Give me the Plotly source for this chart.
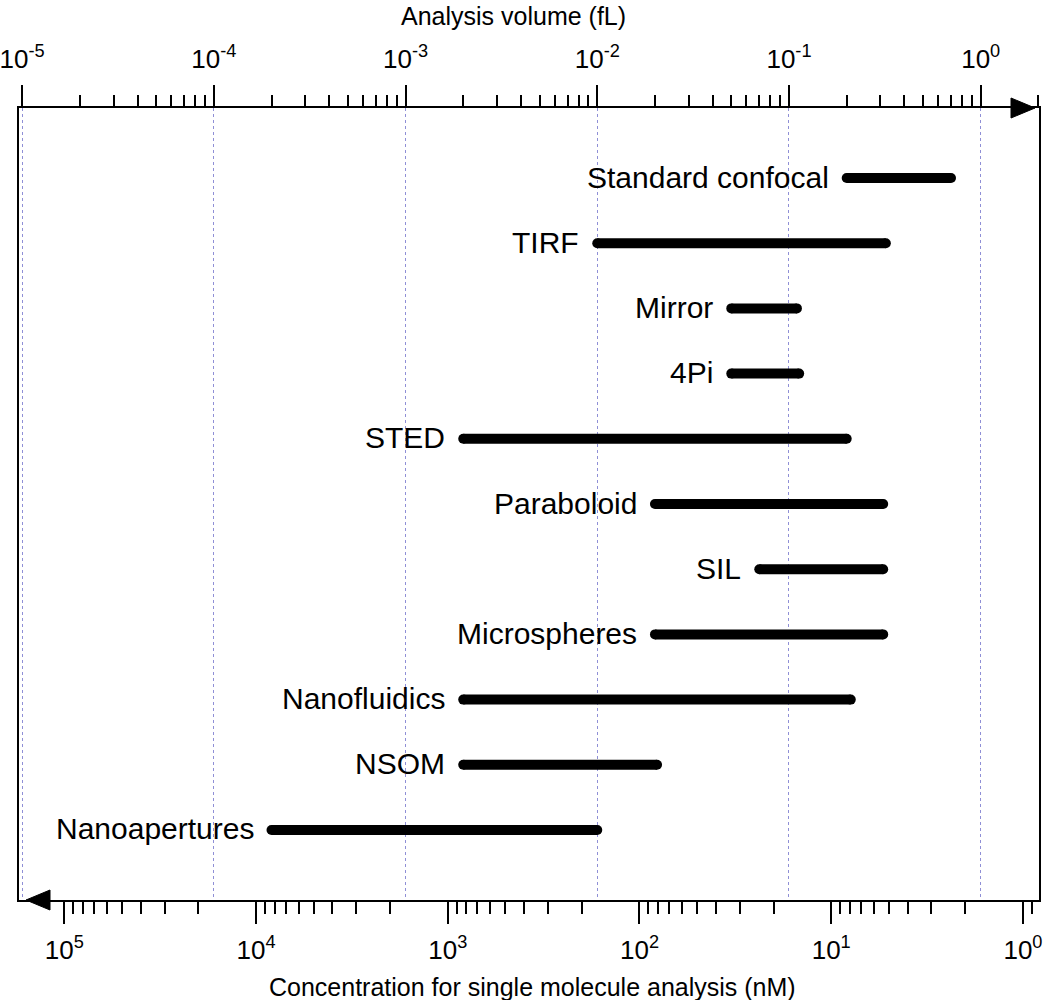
import numpy as np
import plotly.graph_objects as go

# ------------------------
# Data (analysis volume range in fL)
# ------------------------

methods = [
    "Standard confocal", "TIRF", "Mirror", "4Pi", "STED", "Paraboloid",
    "SIL", "Microspheres", "Nanofluidics", "NSOM", "Nanoapertures",
]
vol_min = [0.2, 0.01, 0.05, 0.05, 0.002, 0.02, 0.07, 0.02, 0.002, 0.002, 0.0002]
vol_max = [0.7, 0.32, 0.11, 0.113, 0.2, 0.31, 0.31, 0.31, 0.21, 0.0205, 0.01]

vol_ticks = [1e-5, 1e-4, 1e-3, 1e-2, 1e-1, 1e0]
vol_ticktext = ["10<sup>-5</sup>", "10<sup>-4</sup>", "10<sup>-3</sup>",
                "10<sup>-2</sup>", "10<sup>-1</sup>", "10<sup>0</sup>"]
conc_ticks = [1e5, 1e4, 1e3, 1e2, 1e1, 1e0]
conc_ticktext = ["10<sup>5</sup>", "10<sup>4</sup>", "10<sup>3</sup>",
                 "10<sup>2</sup>", "10<sup>1</sup>", "10<sup>0</sup>"]

# one molecule in V fL -> concentration in nM
NM_PER_FL = 1e9 / (6.022e23 * 1e-15)

# ------------------------
# Axis ranges
# ------------------------

vol_range = [-5.016, 0.304]
conc_range = [np.log10(NM_PER_FL) - vol_range[0], np.log10(NM_PER_FL) - vol_range[1]]

vol_minor = [m * 10.0**e for e in range(-5, 1) for m in range(2, 10)]
conc_minor = [m * 10.0**e for e in range(-1, 6) for m in range(2, 10)]

FONT = "Arial, Liberation Sans, sans-serif"

fig = go.Figure()

# bars: one line per method, round ends with markers
xs, ys = [], []
for i in range(len(methods)):
    xs += [vol_min[i], vol_max[i], None]
    ys += [i, i, None]

fig.add_trace(
    go.Scatter(
        x=xs,
        y=ys,
        mode="lines+markers",
        line=dict(color="black", width=10),
        marker=dict(color="black", size=10, symbol="circle"),
        hoverinfo="skip",
        showlegend=False,
    )
)

# invisible trace so the concentration axis is drawn
conc_ends = [NM_PER_FL / v for v in vol_min + vol_max]
fig.add_trace(
    go.Scatter(
        x=conc_ends,
        y=list(range(len(methods))) * 2,
        xaxis="x2",
        mode="markers",
        marker=dict(opacity=0),
        hoverinfo="skip",
        showlegend=False,
    )
)

for i, name in enumerate(methods):
    fig.add_annotation(
        x=np.log10(vol_min[i]),
        y=i,
        text=name,
        showarrow=False,
        xanchor="right",
        yanchor="middle",
        xshift=-16,
        yshift=1,
        font=dict(family=FONT, size=30, color="black"),
    )

# axis titles
fig.add_annotation(
    x=0.485, y=1, xref="paper", yref="paper",
    text="Analysis volume (fL)", showarrow=False,
    yanchor="bottom", yshift=76,
    font=dict(family=FONT, size=25, color="black"),
)
fig.add_annotation(
    x=0.503, y=0, xref="paper", yref="paper",
    text="Concentration for single molecule analysis (nM)", showarrow=False,
    yanchor="top", yshift=-71,
    font=dict(family=FONT, size=25, color="black"),
)

# arrow heads on the axes
fig.add_shape(
    type="path", xref="paper", yref="paper",
    xsizemode="pixel", ysizemode="pixel", xanchor=1, yanchor=1,
    path="M -4,0 L -28,10 L -28,-10 Z",
    fillcolor="black", line=dict(color="black", width=1),
)
fig.add_shape(
    type="path", xref="paper", yref="paper",
    xsizemode="pixel", ysizemode="pixel", xanchor=0, yanchor=0,
    path="M 7,0 L 31,10 L 31,-10 Z",
    fillcolor="black", line=dict(color="black", width=1),
)

fig.update_layout(
    width=1048,
    height=1000,
    margin=dict(l=19, r=9, t=108, b=100, autoexpand=False),
    paper_bgcolor="white",
    plot_bgcolor="white",
    font=dict(family=FONT, color="black"),
    xaxis=dict(
        type="log",
        side="top",
        range=vol_range,
        automargin=False,
        tickmode="array",
        tickvals=vol_ticks,
        ticktext=vol_ticktext,
        tickfont=dict(size=26),
        ticks="outside",
        ticklen=21,
        tickwidth=2,
        tickcolor="black",
        ticklabelstandoff=7,
        ticklabeloverflow="allow",
        minor=dict(tickmode="array", tickvals=vol_minor, ticks="outside",
                   ticklen=11, tickwidth=2, tickcolor="black", showgrid=False),
        showgrid=True,
        gridcolor="#8f8fd6",
        griddash="dot",
        gridwidth=1,
        showline=True,
        linecolor="black",
        linewidth=2,
        zeroline=False,
    ),
    xaxis2=dict(
        type="log",
        side="bottom",
        overlaying="x",
        anchor="y",
        range=conc_range,
        automargin=False,
        tickmode="array",
        tickvals=conc_ticks,
        ticktext=conc_ticktext,
        tickfont=dict(size=26),
        ticks="outside",
        ticklen=22,
        tickwidth=2,
        tickcolor="black",
        ticklabelstandoff=4,
        ticklabeloverflow="allow",
        minor=dict(tickmode="array", tickvals=conc_minor, ticks="outside",
                   ticklen=12, tickwidth=2, tickcolor="black", showgrid=False),
        showgrid=False,
        showline=True,
        linecolor="black",
        linewidth=2,
        zeroline=False,
    ),
    yaxis=dict(
        range=[len(methods) - 1 + 1.074, -1.074],
        automargin=False,
        showticklabels=False,
        ticks="",
        showgrid=False,
        zeroline=False,
        showline=True,
        mirror=True,
        linecolor="black",
        linewidth=2,
    ),
)

# drop the default page margin so the figure fills the window
fig.write_html(
    "out.html",
    config={"displayModeBar": False},
    post_script="document.body.style.margin = '0';",
)
